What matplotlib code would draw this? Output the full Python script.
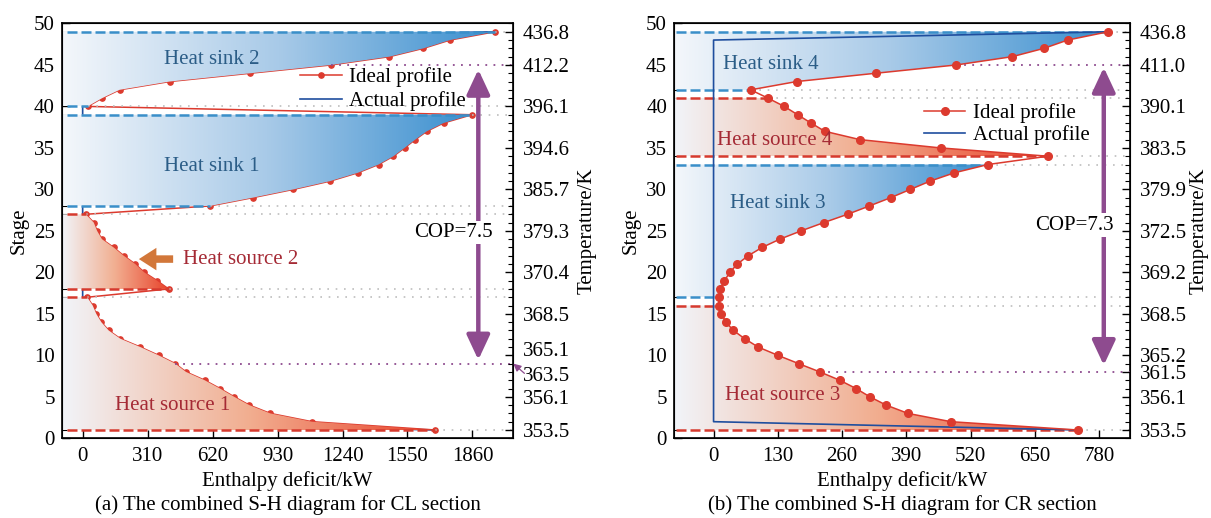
import numpy as np
import matplotlib
matplotlib.use("Agg")
import matplotlib.pyplot as plt
from matplotlib.patches import Polygon
from matplotlib.colors import LinearSegmentedColormap
from matplotlib.ticker import MultipleLocator
from matplotlib.transforms import ScaledTranslation

plt.rcParams['font.family'] = ['Liberation Serif', 'DejaVu Serif']
plt.rcParams['font.size'] = 15

# ---- data: enthalpy deficit (kW) per stage 1..49 ----
stages = np.arange(1, 50)

# CL section
cl_h = [1682, 1094, 895, 795, 723, 655, 582, 493, 442, 362, 275, 180, 124, 89, 65, 48, 22,  # heat source 1
        410, 355, 294, 251, 196, 148, 92, 69, 53, 15,                                        # heat source 2
        606, 811, 1006, 1181, 1313, 1412, 1483, 1536, 1587, 1642, 1722, 1857,                # heat sink 1
        24, 93, 176, 415, 800, 1186, 1464, 1626, 1753, 1967]                                 # heat sink 2
cl_segments = [(1, 17, 'source'), (18, 27, 'source'), (28, 39, 'sink'), (40, 49, 'sink')]
cl_actual_h = [1682, 0, 0, 1967]
cl_actual_s = [1, 2, 48, 49]
cl_xticks = [0, 310, 620, 930, 1240, 1550, 1860]
cl_temp_pos = [1, 5, 10, 15, 20, 25, 30, 35, 40, 45, 49]
cl_temp_lab = ['353.5', '356.1', '365.1', '368.5', '370.4', '379.3', '385.7', '394.6', '396.1', '412.2', '436.8']

# CR section
cr_h = [736, 480, 393, 349, 316, 288, 255, 215, 172, 130, 90, 63, 40, 25, 16, 10,           # heat source 3
        11, 14, 22, 33, 48, 70, 98, 134, 177, 223, 271, 315, 358, 398, 438, 487, 555,       # heat sink 3
        676, 459, 296, 225, 197, 170, 143, 110,                                              # heat source 4
        75, 168, 328, 491, 604, 668, 716, 798]                                               # heat sink 4
cr_segments = [(1, 16, 'source'), (17, 33, 'sink'), (34, 41, 'source'), (42, 49, 'sink')]
cr_actual_h = [736, 0, 0, 798]
cr_actual_s = [1, 2, 48, 49]
cr_xticks = [0, 130, 260, 390, 520, 650, 780]
cr_temp_pos = [1, 5, 8, 10, 15, 20, 25, 30, 35, 40, 45, 49]
cr_temp_lab = ['353.5', '356.1', '361.5', '365.2', '368.5', '369.2', '372.5', '379.9', '383.5', '390.1', '411.0', '436.8']

RED = '#DC3A2E'
BLUE_D = '#3A8FC9'
RED_D = '#D63A2E'
ACT = '#1F4E9E'
PURPLE = '#8E4B8F'
SINK_TXT = '#2B5D87'
SRC_TXT = '#A52A35'

cmap_src = LinearSegmentedColormap.from_list('src', [(0, '#F1F4F9'), (0.5, '#F2AE90'), (1, '#E8432B')])
cmap_sink = LinearSegmentedColormap.from_list('sink', [(0, '#F4F7FB'), (0.5, '#A8CAE8'), (1, '#3A8FCF')])


def grad_fill(ax, xs, ss, x0, cmap, z):
    px = [x0] + list(xs) + [x0]
    py = [ss[0]] + list(ss) + [ss[-1]]
    poly = Polygon(np.column_stack([px, py]), closed=True, facecolor='none', edgecolor='none')
    ax.add_patch(poly)
    grad = np.linspace(0, 1, 256).reshape(1, -1)
    im = ax.imshow(grad, extent=(x0, max(xs), min(ss), max(ss)), aspect='auto', cmap=cmap,
                   origin='lower', zorder=z, interpolation='bilinear')
    im.set_clip_path(poly)


def panel(ax, h, segs, xlim, xticks, act_h, act_s, line_on_top, ms):
    h = np.array(h)
    x0 = xlim[0]
    zline = 4 if line_on_top else 1
    for s0, s1, kind in segs:
        idx = (stages >= s0) & (stages <= s1)
        grad_fill(ax, h[idx], stages[idx], x0, cmap_src if kind == 'source' else cmap_sink, 2)
        for s in (s0, s1):
            hv = h[s - 1]
            ax.plot([-75, hv], [s, s], color=RED_D if kind == 'source' else BLUE_D, lw=1.8,
                    dashes=(4, 1.6), zorder=3)
            ax.plot([hv, xlim[1]], [s, s], color='#BDBDBD', lw=1.2, dashes=(1, 4), zorder=1.5)
    act, = ax.plot(act_h, act_s, color=ACT, lw=1.2, zorder=zline - 0.5)
    ideal, = ax.plot(h, stages, color=RED, lw=1.1, marker='o', ms=ms, zorder=zline)
    ax.set_xlim(*xlim)
    ax.set_ylim(0, 50)
    ax.set_xticks(xticks)
    ax.set_yticks(range(0, 51, 5))
    ax.yaxis.set_minor_locator(MultipleLocator(1))
    ax.tick_params(axis='x', direction='in', length=6, width=1, pad=6, labelsize=15)
    ax.tick_params(axis='y', which='major', direction='in', length=6, width=1, pad=5, labelsize=15)
    ax.tick_params(axis='y', which='minor', direction='in', length=3.5, width=0.8)
    ax.set_xlabel('Enthalpy deficit/kW', fontsize=15, labelpad=4)
    ax.set_ylabel('Stage', fontsize=15, labelpad=4)
    for sp in ax.spines.values():
        sp.set_linewidth(1.2)
    return ideal, act


def temp_axis(ax, pos, lab, lpad):
    axr = ax.twinx()
    axr.set_ylim(0, 50)
    axr.set_yticks(pos)
    axr.set_yticklabels(lab)
    axr.yaxis.set_minor_locator(MultipleLocator(1))
    axr.tick_params(axis='y', which='major', direction='in', length=6, width=1, pad=7, labelsize=15)
    axr.tick_params(axis='y', which='minor', direction='in', length=3.5, width=0.8)
    axr.set_ylabel('Temperature/K', fontsize=15, labelpad=lpad)
    return axr


def cop_arrow(ax, x, s_bot, s_top, txt, tx, ty):
    ax.annotate('', xy=(x, s_top), xytext=(x, s_bot),
                arrowprops=dict(arrowstyle='<|-|>,head_length=0.75,head_width=0.35',
                                mutation_scale=20, lw=3.2, color=PURPLE, shrinkA=0, shrinkB=0),
                zorder=5)
    ax.text(tx, ty, txt, ha='center', va='center', fontsize=15, zorder=6,
            bbox=dict(facecolor='white', edgecolor='none', pad=1.5))


fig = plt.figure(figsize=(12.11, 5.18), dpi=100)
ax1 = fig.add_axes([0.05095, 0.1539, 0.37292, 0.8008])
ax2 = fig.add_axes([0.55656, 0.1539, 0.37655, 0.8008])

# ---- (a) CL section ----
ideal1, act1 = panel(ax1, cl_h, cl_segments, (-100, 2055), cl_xticks, cl_actual_h, cl_actual_s, False, 3.8)
ax1.plot([cl_h[44], 2055], [45, 45], color=PURPLE, lw=1.3, dashes=(1, 3.5), zorder=3)
ax1.plot([cl_h[8], 2055], [9, 9], color=PURPLE, lw=1.3, dashes=(1, 3.5), zorder=3)
cop_arrow(ax1, 1888, 9.45, 44.45, 'COP=7.5', 1767, 24.8)
ax1.text(618, 45.7, 'Heat sink 2', color=SINK_TXT, ha='center', va='center', fontsize=15, zorder=6)
ax1.text(618, 32.8, 'Heat sink 1', color=SINK_TXT, ha='center', va='center', fontsize=15, zorder=6)
ax1.text(477, 21.6, 'Heat source 2', color=SRC_TXT, ha='left', va='center', fontsize=15, zorder=6)
ax1.text(428, 4.0, 'Heat source 1', color=SRC_TXT, ha='center', va='center', fontsize=15, zorder=6)
ax1.annotate('', xy=(255, 21.6), xytext=(445, 21.6),
             arrowprops=dict(arrowstyle='simple,head_length=0.7,head_width=0.9,tail_width=0.3',
                             mutation_scale=18, color='#D2773A', lw=0), zorder=6)
ax1.legend([ideal1, act1], ['Ideal profile', 'Actual profile'], loc='center left',
           bbox_to_anchor=(1037, 42.1), bbox_transform=ax1.transData, frameon=False,
           handlelength=2.0, handletextpad=0.35, borderpad=0, borderaxespad=0,
           labelspacing=0.2, fontsize=15)
axr1 = temp_axis(ax1, cl_temp_pos, cl_temp_lab, 5)
for t, lab in zip(axr1.get_yticklabels(), cl_temp_lab):
    if lab == '365.1':
        t.set_transform(t.get_transform() + ScaledTranslation(0, 6 / 100, fig.dpi_scale_trans))
axr1.annotate('363.5', xy=(1.0, 7.4), xycoords=('axes fraction', 'data'), xytext=(7, 0),
              textcoords='offset points', ha='left', va='center', fontsize=15, annotation_clip=False)
axr1.annotate('', xy=(1.0, 9), xycoords=('axes fraction', 'data'), xytext=(8, -7),
              textcoords='offset points', annotation_clip=False,
              arrowprops=dict(arrowstyle='-|>,head_length=0.3,head_width=0.15', color=PURPLE,
                              lw=0.9, shrinkA=0, shrinkB=0))

# ---- (b) CR section ----
ideal2, act2 = panel(ax2, cr_h, cr_segments, (-80, 842), cr_xticks, cr_actual_h, cr_actual_s, True, 5.5)
ax2.plot([cr_h[44], 842], [45, 45], color=PURPLE, lw=1.3, dashes=(1, 3.5), zorder=3)
ax2.plot([cr_h[7], 842], [8, 8], color=PURPLE, lw=1.3, dashes=(1, 3.5), zorder=3)
cop_arrow(ax2, 789, 8.8, 44.7, 'COP=7.3', 729, 25.7)
ax2.text(116, 45.0, 'Heat sink 4', color=SINK_TXT, ha='center', va='center', fontsize=15, zorder=6)
ax2.text(123, 35.9, 'Heat source 4', color=SRC_TXT, ha='center', va='center', fontsize=15, zorder=6)
ax2.text(130, 28.3, 'Heat sink 3', color=SINK_TXT, ha='center', va='center', fontsize=15, zorder=6)
ax2.text(139, 5.2, 'Heat source 3', color=SRC_TXT, ha='center', va='center', fontsize=15, zorder=6)
ax2.legend([ideal2, act2], ['Ideal profile', 'Actual profile'], loc='center left',
           bbox_to_anchor=(425, 37.9), bbox_transform=ax2.transData, frameon=False,
           handlelength=2.0, handletextpad=0.35, borderpad=0, borderaxespad=0,
           labelspacing=0.1, fontsize=15)
temp_axis(ax2, cr_temp_pos, cr_temp_lab, 2)

fig.text(287.5 / 1211, 13 / 518, '(a) The combined S-H diagram for CL section', ha='center', va='center', fontsize=15)
fig.text(902 / 1211, 13 / 518, '(b) The combined S-H diagram for CR section', ha='center', va='center', fontsize=15)

fig.savefig('out.png', dpi=100)
